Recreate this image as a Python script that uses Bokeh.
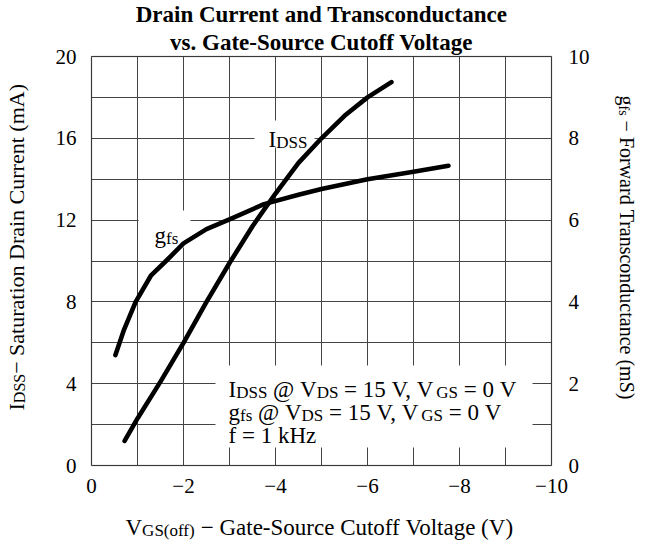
import math
from bokeh.plotting import figure
from bokeh.models import Range1d, LinearAxis, FixedTicker, Label, BoxAnnotation, Grid
from bokeh.embed import file_html
from bokeh.resources import INLINE

# ---------------- data ----------------
idss_vgs = [-0.72, -1.0, -1.5, -2.0, -2.5, -3.0, -3.5, -4.0, -4.5, -5.0, -5.5, -6.0, -6.52]
idss_ma = [1.2, 2.3, 4.1, 6.0, 8.0, 9.9, 11.7, 13.3, 14.8, 16.0, 17.1, 18.0, 18.75]

gfs_vgs = [-0.52, -0.71, -0.96, -1.29, -1.62, -2.0, -2.5, -3.0, -3.75, -4.5, -5.0, -6.0, -7.0, -7.76]
gfs_ms = [2.7, 3.33, 4.0, 4.64, 5.0, 5.43, 5.78, 6.02, 6.39, 6.62, 6.76, 7.0, 7.18, 7.33]

x_ticks = [0, -2, -4, -6, -8, -10]
x_tick_labels = ["0", "\u22122", "\u22124", "\u22126", "\u22128", "\u221210"]
left_ticks = [0, 4, 8, 12, 16, 20]
right_ticks = [0, 2, 4, 6, 8, 10]
x_grid = list(range(0, -11, -1))
y_grid = list(range(0, 21, 2))

# ---------------- layout constants (canvas px) ----------------
FONT = "Liberation Serif"
W, H = 647, 544
GX0, GX1 = 91, 551      # grid area left/right
GY0, GY1 = 56, 465      # grid area top/bottom
SX = (GX1 - GX0) / 10.0
SY = (GY1 - GY0) / 20.0
PAGE = 8

x_range = Range1d(GX0 / SX, -(W - GX0) / SX)
y_range = Range1d(-(H - GY1) / SY, GY1 / SY)

p = figure(width=W, height=H, x_range=x_range, y_range=y_range,
           output_backend="svg", toolbar_location=None,
           min_border_left=0, min_border_right=0, min_border_top=0, min_border_bottom=0)
p.title.visible = False
p.extra_y_ranges = {"gfs": Range1d(y_range.start / 2.0, y_range.end / 2.0)}
p.background_fill_color = "white"
p.border_fill_color = "white"
p.outline_line_color = None

# grid
p.xgrid.ticker = FixedTicker(ticks=x_grid)
p.ygrid.ticker = FixedTicker(ticks=y_grid)
has_cross = "cross_bounds" in Grid.properties()
for g in (p.xgrid[0], p.ygrid[0]):
    g.grid_line_color = "#444444"
    g.grid_line_width = 1
    g.grid_line_alpha = 1.0
if has_cross:
    p.xgrid[0].cross_bounds = (0, 20)
    p.ygrid[0].cross_bounds = (-10, 0)
else:
    p.xgrid[0].visible = False
    p.ygrid[0].visible = False
    p.segment(x0=x_grid, x1=x_grid, y0=[0] * len(x_grid), y1=[20] * len(x_grid),
              line_color="#444444", line_width=1)
    p.segment(x0=[0] * len(y_grid), x1=[-10] * len(y_grid), y0=y_grid, y1=y_grid,
              line_color="#444444", line_width=1)

# axes placed on the edges of the grid area
right_axis = LinearAxis(y_range_name="gfs")
p.add_layout(right_axis, "right")
p.xaxis[0].fixed_location = 0
p.yaxis[0].fixed_location = 0
right_axis.fixed_location = -10

p.xaxis[0].ticker = FixedTicker(ticks=x_ticks)
p.xaxis[0].major_label_overrides = {t: l for t, l in zip(x_ticks, x_tick_labels)}
p.yaxis[0].ticker = FixedTicker(ticks=left_ticks)
right_axis.ticker = FixedTicker(ticks=right_ticks)

for ax, so in ((p.xaxis[0], 13), (p.yaxis[0], 15), (right_axis, 17)):
    ax.axis_line_color = None
    ax.major_tick_line_color = None
    ax.minor_tick_line_color = None
    ax.major_tick_out = 0
    ax.major_tick_in = 0
    ax.minor_tick_out = 0
    ax.minor_tick_in = 0
    ax.major_label_text_font = FONT
    ax.major_label_text_font_size = "21px"
    ax.major_label_text_color = "black"
    ax.major_label_standoff = so

# ---------------- helpers for text placement (page px -> data) ----------------
def dx(px):
    return -((px - PAGE) - GX0) / SX


def dy(py):
    return (GY1 - (py - PAGE)) / SY


WID = {' ': .25, '\u00a0': .25, '(': .333, ')': .333, ',': .25, '-': .333, '.': .25, '=': .564,
       '@': .921, '\u2212': .564, 'A': .722, 'C': .667, 'D': .722, 'F': .556, 'G': .722,
       'H': .722, 'I': .333, 'S': .556, 'T': .611, 'V': .722, 'a': .444, 'c': .444, 'd': .5,
       'e': .444, 'f': .333, 'g': .5, 'i': .278, 'k': .5, 'l': .278, 'm': .778, 'n': .5,
       'o': .5, 'r': .333, 's': .389, 't': .278, 'u': .5, 'w': .722, 'z': .444}


def tw(s, size):
    return sum(WID.get(c, .5) for c in s) * size


def rich(pieces, x0, y0, size, sub, direction="h", shift=3):
    """pieces: list of (text, is_sub); x0,y0 = page px of the baseline start."""
    pos = 0.0
    for text, is_sub in pieces:
        fs = sub if is_sub else size
        shown = text.replace(" ", "\u00a0")
        if direction == "h":
            px, py, ang = x0 + pos, y0 + (shift if is_sub else 0), 0.0
        elif direction == "up":
            px, py, ang = x0 + (shift if is_sub else 0), y0 - pos, math.pi / 2
        else:
            px, py, ang = x0 - (shift if is_sub else 0), y0 + pos, -math.pi / 2
        p.add_layout(Label(x=dx(px), y=dy(py), text=shown, angle=ang,
                           text_font=FONT, text_font_size=f"{fs}px", text_color="black",
                           text_align="left", text_baseline="alphabetic"))
        pos += tw(text, fs)


# ---------------- white label backgrounds ----------------
box_left = [dx(262), dx(146), dx(223)]
box_right = [dx(322), dx(198), dx(540)]
box_top = [dy(128), dy(218), dy(373)]
box_bottom = [dy(155), dy(255), dy(455)]
p.quad(left=box_left, right=box_right, top=box_top, bottom=box_bottom,
       fill_color="white", line_color=None)

# frame around the grid area
p.add_layout(BoxAnnotation(left=-10, right=0, bottom=0, top=20, fill_color=None,
                           line_color="#222222", line_width=1.5))

# ---------------- curves ----------------
p.line(idss_vgs, idss_ma, line_width=4.6, line_color="black", line_cap="round", line_join="round")
p.line(gfs_vgs, gfs_ms, y_range_name="gfs", line_width=4.6, line_color="black",
       line_cap="round", line_join="round")

# ---------------- texts ----------------
for txt, base in (("Drain Current and Transconductance", 22),
                  ("vs. Gate-Source Cutoff Voltage", 50)):
    p.add_layout(Label(x=dx(329), y=dy(base), text=txt, text_font=FONT,
                       text_font_size="23px", text_font_style="bold", text_color="black",
                       text_align="center", text_baseline="alphabetic"))

rich([("I", False), ("DSS", True)], 276, 147, 23, 17)
rich([("g", False), ("fs", True)], 162, 243, 23, 17)

rich([("I", False), ("DSS", True), (" @ V", False), ("DS", True), (" = 15 V, V", False),
      ("GS", True), (" = 0 V", False)], 236, 397, 23, 17)
rich([("g", False), ("fs", True), (" @ V", False), ("DS", True), (" = 15 V, V", False),
      ("GS", True), (" = 0 V", False)], 236, 420, 23, 17)
rich([("f = 1 kHz", False)], 236, 443, 23, 17)

rich([("V", False), ("GS(off)", True), (" \u2212 Gate-Source Cutoff Voltage (V)", False)],
     133, 535, 23, 17)
rich([("I", False), ("DSS", True), ("\u2212 Saturation Drain Current (mA)", False)],
     24, 418, 22, 16, direction="up")
rich([("g", False), ("fs", True), (" \u2212 Forward Transconductance (mS)", False)],
     634, 103, 20, 14, direction="down")

open("out.html", "w").write(file_html(p, INLINE))
